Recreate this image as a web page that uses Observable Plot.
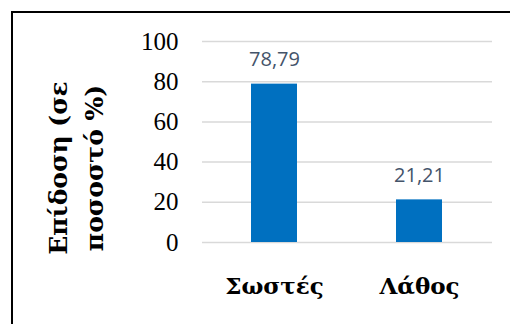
<!DOCTYPE html>
<html><head><meta charset="utf-8">
<script src="https://cdn.jsdelivr.net/npm/d3@7"></script>
<script src="https://cdn.jsdelivr.net/npm/@observablehq/plot@0.6"></script>
<style>
body{margin:0;background:#fff;overflow:hidden;}
#wrap{position:relative;width:510px;height:324px;overflow:hidden;}
#border{position:absolute;left:11px;top:11px;width:600px;height:400px;border:2px solid #000;pointer-events:none;}
</style></head><body>
<div id="wrap"><div id="border"></div></div>
<script>
const categories = ["Σωστές", "Λάθος"];
const values = [78.79, 21.21];
const valueLabels = ["78,79", "21,21"];
const yTicks = [0, 20, 40, 60, 80, 100];
const yTitle = ["Επίδοση (σε", "ποσοστό %)"];

const data = categories.map((c, i) => ({cat: c, value: values[i], label: valueLabels[i]}));
const greekSerif = "'DejaVu Serif', 'Liberation Serif', serif";

const chart = Plot.plot({
  width: 510, height: 324,
  marginLeft: 202, marginRight: 18, marginTop: 41, marginBottom: 82,
  style: {fontFamily: "'Liberation Serif', serif", background: "transparent", color: "#000"},
  x: {domain: categories, paddingInner: 0.68, paddingOuter: 0.34},
  y: {domain: [0, 100]},
  marks: [
    Plot.gridY(yTicks, {stroke: "#d9d9d9", strokeOpacity: 1, strokeWidth: 1.5}),
    Plot.barY(data, {x: "cat", y: "value", fill: "#0070C0"}),
    Plot.text(data, {x: "cat", y: "value", text: "label", dy: -18, lineAnchor: "bottom",
      fontFamily: "'Open Sans', sans-serif", fontSize: 20, fill: "#44546A"}),
    Plot.axisY(yTicks, {tickSize: 0, tickPadding: 24, fontSize: 25, label: null, tickFormat: d => String(d)}),
    Plot.axisX({tickSize: 0, tickPadding: 35, fontSize: 23, fontWeight: "bold", fontFamily: greekSerif, label: null}),
    Plot.text([yTitle.join("\n")], {frameAnchor: "left", rotate: -90, dx: -129, dy: 26,
      fontFamily: greekSerif, fontSize: 25, fontWeight: "bold", lineHeight: 1.45, textAnchor: "middle", lineAnchor: "middle"})
  ]
});
document.getElementById("wrap").prepend(chart);
</script></body></html>
